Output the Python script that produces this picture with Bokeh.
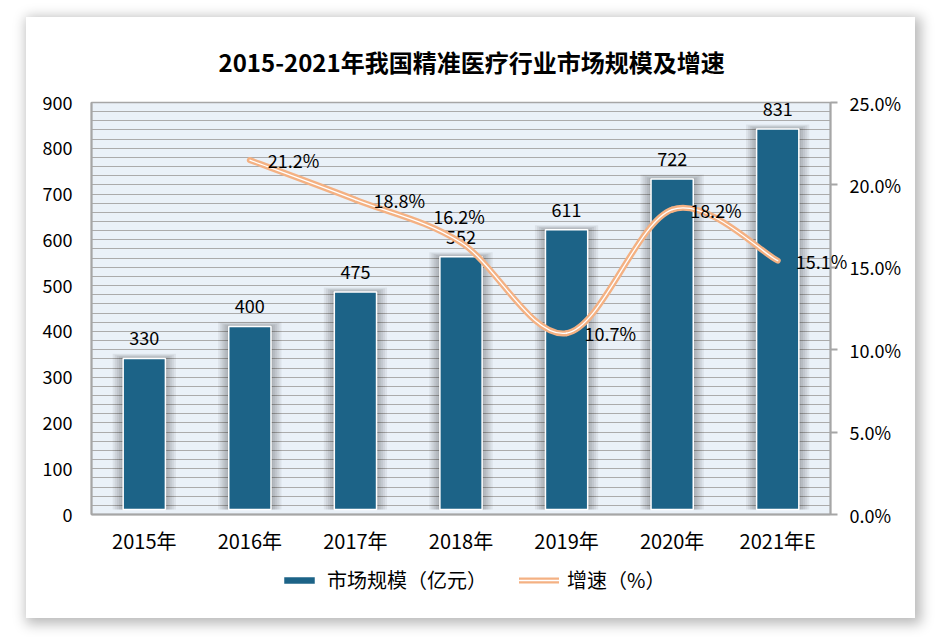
import numpy as np
from bokeh.plotting import figure
from bokeh.models import (Range1d, LinearAxis, FixedTicker, PrintfTickFormatter,
                          Legend, LegendItem)
from bokeh.core.properties import value
from bokeh.embed import file_html
from bokeh.resources import INLINE

# ---------------- data ----------------
categories = ["2015年", "2016年", "2017年", "2018年", "2019年", "2020年", "2021年E"]
market_size = [330, 400, 475, 552, 611, 722, 831]          # 亿元
growth_years = ["2016年", "2017年", "2018年", "2019年", "2020年", "2021年E"]
growth_rate = [21.2, 18.8, 16.2, 10.7, 18.2, 15.1]          # %
growth_label_side = ["right", "right", "above", "right", "right", "right"]
left_ticks = [0, 100, 200, 300, 400, 500, 600, 700, 800, 900]
right_ticks = [0, 5, 10, 15, 20, 25]
title_text = "2015-2021年我国精准医疗行业市场规模及增速"
legend_labels = ["市场规模（亿元）", "增速（%）"]

# ---------------- style / layout ----------------
FONT = "Noto Sans CJK SC"
BAR = "#1C6387"
ORANGE = "#F4B183"
GRID = "#ABABAB"
AXIS = "#A6A6A6"

CARD_W, CARD_H = 889, 590
CARD_X, CARD_Y = 26, 23
ROOT_SHIFT = 6          # extra vertical offset the first root gets on the page
B_L, B_R, B_T, B_B = 65, 85, 74, 104
FW, FH = CARD_W - B_L - B_R, CARD_H - B_T - B_B
X0, X1 = -0.5, len(categories) - 0.5
Y0, Y1 = 0, 900
P0, P1 = 0, 25

# ---------- base figure: card, plot area, grid, axes, title ----------
p = figure(frame_width=FW, frame_height=FH, output_backend="svg", toolbar_location=None,
           x_range=Range1d(X0, X1), y_range=Range1d(Y0, Y1),
           min_border_left=B_L, min_border_right=B_R, min_border_top=B_T, min_border_bottom=B_B,
           background_fill_color="#EAF1F8", border_fill_color="white",
           outline_line_color=AXIS, outline_line_width=1.5)
p.margin = (CARD_Y - ROOT_SHIFT, 0, 0, CARD_X)
p.styles = {"box-shadow": "3px 3px 12px 3px rgba(0,0,0,0.28)"}

idx = list(range(len(categories)))

p.title.text = title_text
p.title.align = "left"
p.title.offset = 127
p.title.text_font = FONT
p.title.text_font_style = "bold"
p.title.text_font_size = "24px"
p.title.text_color = "#000000"
p.title.standoff = 48

p.xaxis.ticker = FixedTicker(ticks=idx)
p.xaxis.major_label_overrides = {i: c for i, c in enumerate(categories)}
p.xaxis.major_tick_out = 0
p.xaxis.major_tick_in = 0
p.xaxis.minor_tick_line_color = None
p.xaxis.axis_line_color = AXIS
p.xaxis.axis_line_width = 2
p.xaxis.major_label_text_font = FONT
p.xaxis.major_label_text_font_size = "20px"
p.xaxis.major_label_text_color = "#000000"
p.xaxis.major_label_standoff = 11

p.yaxis.ticker = FixedTicker(ticks=left_ticks)
p.yaxis.major_tick_out = 0
p.yaxis.major_tick_in = 0
p.yaxis.minor_tick_line_color = None
p.yaxis.axis_line_color = AXIS
p.yaxis.axis_line_width = 2
p.yaxis.major_label_text_font = FONT
p.yaxis.major_label_text_font_size = "18px"
p.yaxis.major_label_text_color = "#000000"
p.yaxis.major_label_standoff = 19

p.extra_y_ranges = {"pct": Range1d(P0, P1)}
ax_r = LinearAxis(y_range_name="pct", ticker=FixedTicker(ticks=right_ticks),
                  formatter=PrintfTickFormatter(format="%.1f%%"))
ax_r.major_tick_out = 7
ax_r.major_tick_in = 0
ax_r.major_tick_line_color = AXIS
ax_r.major_tick_line_width = 2
ax_r.minor_tick_line_color = None
ax_r.axis_line_color = AXIS
ax_r.axis_line_width = 2
ax_r.major_label_text_font = FONT
ax_r.major_label_text_font_size = "18px"
ax_r.major_label_text_color = "#000000"
ax_r.major_label_standoff = 12
p.add_layout(ax_r, "right")

p.xgrid.visible = False
p.ygrid.ticker = FixedTicker(ticks=list(range(0, 901, 20)))
p.ygrid.grid_line_color = GRID
p.ygrid.grid_line_width = 1

# ---------- transparent overlay over the whole card, with the same scales ----------
px_x = FW / (X1 - X0)
px_y = FH / (Y1 - Y0)
px_p = FH / (P1 - P0)
q = figure(width=CARD_W, height=CARD_H, output_backend="svg", toolbar_location=None,
           x_range=Range1d(X0 - B_L / px_x, X1 + B_R / px_x),
           y_range=Range1d(Y0 - B_B / px_y, Y1 + B_T / px_y),
           min_border=0, x_axis_type=None, y_axis_type=None, title=None,
           background_fill_alpha=0, border_fill_alpha=0, outline_line_color=None)
q.extra_y_ranges = {"pct": Range1d(P0 - B_B / px_p, P1 + B_T / px_p)}
q.xgrid.visible = False
q.ygrid.visible = False
q.styles = {"position": "absolute", "left": "%dpx" % CARD_X, "top": "%dpx" % CARD_Y}

# bar shadows (soft)
for k in range(1, 6):
    q.vbar(x=idx, top=[v + 2.0 * k for v in market_size], width=0.4 + 0.04 * k,
           fill_color="black", fill_alpha=0.06, line_color=None)

bars = q.vbar(x=idx, top=market_size, width=0.4, fill_color=BAR,
              line_color="white", line_width=1.5)

q.text(x=idx, y=market_size, text=[str(v) for v in market_size],
       text_align="center", text_baseline="middle", y_offset=-20,
       text_font=value(FONT), text_font_size="18px", text_color="#000000")

# smoothed growth line (Catmull-Rom -> cubic Bezier segments)
gx = [categories.index(c) for c in growth_years]
pts = list(zip(gx, growth_rate))
bz = {k: [] for k in ["x0", "y0", "x1", "y1", "cx0", "cy0", "cx1", "cy1"]}
n = len(pts)
for i in range(n - 1):
    p0 = pts[i - 1] if i > 0 else pts[i]
    p1 = pts[i]
    p2 = pts[i + 1]
    p3 = pts[i + 2] if i + 2 < n else pts[i + 1]
    bz["x0"].append(p1[0]); bz["y0"].append(p1[1])
    bz["x1"].append(p2[0]); bz["y1"].append(p2[1])
    bz["cx0"].append(p1[0] + (p2[0] - p0[0]) / 6.0)
    bz["cy0"].append(p1[1] + (p2[1] - p0[1]) / 6.0)
    bz["cx1"].append(p2[0] - (p3[0] - p1[0]) / 6.0)
    bz["cy1"].append(p2[1] - (p3[1] - p1[1]) / 6.0)

line_o = q.bezier(y_range_name="pct", line_color=ORANGE, line_width=6, line_cap="round", **bz)
line_w = q.bezier(y_range_name="pct", line_color="white", line_width=1.3, line_cap="round", **bz)

# growth labels
for side, xo, yo, al in [("right", 18, 0, "left"), ("above", -2, -27, "center")]:
    xs = [x for x, s in zip(gx, growth_label_side) if s == side]
    ys = [y for y, s in zip(growth_rate, growth_label_side) if s == side]
    q.text(x=xs, y=ys, text=["%.1f%%" % v for v in ys], y_range_name="pct",
           x_offset=xo, y_offset=yo, text_align=al, text_baseline="middle",
           text_font=value(FONT), text_font_size="18px", text_color="#000000")

legend = Legend(items=[LegendItem(label=legend_labels[0], renderers=[bars]),
                       LegendItem(label=legend_labels[1], renderers=[line_o, line_w])],
                orientation="horizontal", location=(253, 19),
                background_fill_alpha=0, border_line_color=None, padding=0, margin=0,
                spacing=32, glyph_width=40, glyph_height=10, label_standoff=8,
                label_text_font=FONT, label_text_font_size="20px", label_height=20,
                label_text_color="#000000")
q.add_layout(legend)

open("out.html", "w").write(file_html([p, q], INLINE))
